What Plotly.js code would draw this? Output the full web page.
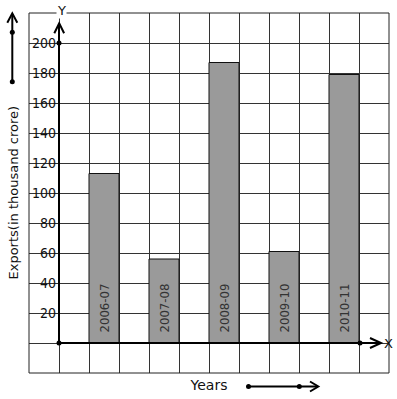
<!DOCTYPE html>
<html>
<head>
<meta charset="utf-8">
<script src="https://cdn.plot.ly/plotly-3.0.1.min.js"></script>
<style>html,body{margin:0;padding:0;background:#fff;}#chart{width:397px;height:399px;}</style>
</head>
<body>
<div id="chart"></div>
<script>
// ---- data ----
const categories = ['2006-07', '2007-08', '2008-09', '2009-10', '2010-11'];
const exportsValues = [113, 56, 187, 61, 179];
const yTickVals = [-20, 0, 20, 40, 60, 80, 100, 120, 140, 160, 180, 200, 220];
const yTickText = ['', '', '20', '40', '60', '80', '100', '120', '140', '160', '180', '200', ''];
const xTitle = 'Years';
const yTitle = 'Exports(in thousand crore)';

// ---- layout helpers (pixel -> paper for decorations) ----
const L = 29, T = 13, W = 360, H = 360;
const px = v => (v - L) / W;
const py = v => (T + H - v) / H;
const barX = categories.map((c, i) => 1.5 + 2 * i);

const numFont = {family: 'DejaVu Sans Condensed, DejaVu Sans, sans-serif', size: 14, color: '#111'};
const txtFont = {family: 'DejaVu Sans, sans-serif', size: 13, color: '#111'};

const shapes = [];
// white patches behind y tick labels
yTickVals.forEach((v, i) => {
  const t = yTickText[i];
  if (t !== '') {
    shapes.push({type: 'rect', layer: 'between', xref: 'paper', yref: 'y',
      x0: px(53 - t.length * 7.4 - 1), x1: px(53.5), y0: v - 3.5, y1: v + 3.5,
      fillcolor: '#fff', line: {width: 0}});
  }
});
// border
shapes.push({type: 'rect', xref: 'paper', yref: 'paper', x0: 0, x1: 1, y0: 0, y1: 1,
  line: {color: '#222', width: 1}, layer: 'above'});
function line(x0, y0, x1, y1, w) {
  shapes.push({type: 'line', xref: 'paper', yref: 'paper', x0: px(x0), y0: py(y0), x1: px(x1), y1: py(y1),
    line: {color: '#000', width: w || 2}, layer: 'above'});
}
function path(pts, w) {
  const d = pts.map((p, i) => (i ? 'L' : 'M') + px(p[0]) + ',' + py(p[1])).join(' ');
  shapes.push({type: 'path', xref: 'paper', yref: 'paper', path: d,
    line: {color: '#000', width: w || 2}, layer: 'above'});
}
function dot(x, y, r) {
  r = r || 2.5;
  shapes.push({type: 'circle', xref: 'paper', yref: 'paper', x0: px(x - r), x1: px(x + r), y0: py(y + r), y1: py(y - r),
    fillcolor: '#000', line: {color: '#000', width: 0}, layer: 'above'});
}
// y axis with arrow
line(59, 343, 59, 24);
path([[54.3, 33.3], [59.2, 23.3], [64.1, 33.3]]);
dot(59, 43); dot(59, 343);
// x axis with arrow
line(59, 343, 381, 343);
path([[370, 338], [381, 343], [370, 348]]);
dot(360, 343);
// decorative left arrow
line(12.3, 82, 12.3, 14);
path([[7.3, 22.7], [12.3, 13.3], [17.3, 22.7]]);
dot(12.3, 32.3); dot(12.3, 81.7);
// decorative bottom arrow
line(248.5, 386.5, 318, 386.5);
path([[310, 381.5], [318.3, 386.5], [310, 391.5]]);
dot(248.5, 386.5); dot(299.3, 386.5);

const annotations = [
  {xref: 'paper', yref: 'paper', x: px(61), y: py(10), text: 'Y', showarrow: false,
   font: {family: 'DejaVu Sans, sans-serif', size: 13, color: '#111'}, bgcolor: '#fff', borderpad: 0,
   xanchor: 'center', yanchor: 'middle'},
  {xref: 'paper', yref: 'paper', x: px(388.5), y: py(343), text: 'X', showarrow: false,
   font: {family: 'DejaVu Sans, sans-serif', size: 13, color: '#111'}, xanchor: 'center', yanchor: 'middle'},
  {xref: 'paper', yref: 'paper', x: px(12.5), y: py(193), text: yTitle, textangle: -90, showarrow: false,
   font: txtFont, xanchor: 'center', yanchor: 'middle'}
];
categories.forEach((c, i) => {
  annotations.push({xref: 'x', yref: 'y', x: barX[i], y: 0, text: c, textangle: -90, showarrow: false,
    font: {family: 'DejaVu Sans Condensed, DejaVu Sans, sans-serif', size: 13, color: '#333'},
    xanchor: 'center', yanchor: 'bottom', yshift: 9, borderpad: 0});
});

const data = [{
  type: 'bar', x: barX, y: exportsValues, width: 1,
  marker: {color: '#9a9a9a', line: {color: '#111', width: 1}},
  hoverinfo: 'skip'
}];

const layout = {
  width: 397, height: 399,
  margin: {l: L, r: 397 - L - W, t: T, b: 399 - T - H, pad: 0},
  paper_bgcolor: '#fff', plot_bgcolor: '#fff', showlegend: false,
  xaxis: {range: [-1, 11], tickmode: 'linear', tick0: -1, dtick: 1, showgrid: true, gridcolor: '#333', gridwidth: 1,
    showticklabels: false, ticks: '', zeroline: false, showline: false, fixedrange: true,
    title: {text: xTitle, font: {family: 'DejaVu Sans, sans-serif', size: 14, color: '#111'}, standoff: 7}},
  yaxis: {range: [-20, 220], tickmode: 'array', tickvals: yTickVals, ticktext: yTickText,
    showgrid: true, gridcolor: '#333', gridwidth: 1, zeroline: false, showline: false, ticks: '',
    anchor: 'free', position: 1 / 12, ticklabelstandoff: 3, tickfont: numFont, fixedrange: true},
  shapes: shapes,
  annotations: annotations
};

Plotly.newPlot('chart', data, layout, {displayModeBar: false, staticPlot: true});
</script>
</body>
</html>
